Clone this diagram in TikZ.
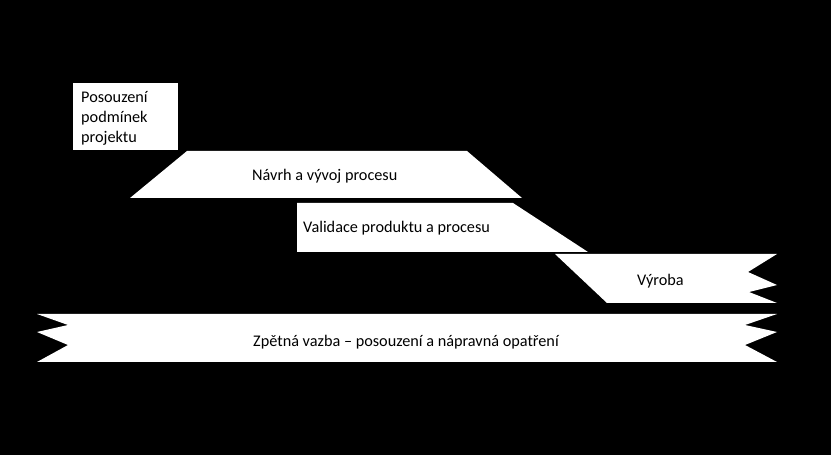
\documentclass[tikz,border=0pt]{standalone}
\usepackage{fontspec}
\setmainfont{Carlito}
\begin{document}
\begin{tikzpicture}[x=1bp,y=-1bp,
  shp/.style={fill=white,draw=none},
  lbl/.style={font=\fontsize{16.3}{20.5}\selectfont,text=black,inner sep=0pt,anchor=base west}]
\fill[black] (0,0) rectangle (831,455);
\useasboundingbox (0,0) rectangle (831,455);
% shapes
\fill[shp] (73,83) rectangle (178,150);
\fill[shp] (187,151) -- (467,151) -- (522,198) -- (130,198) -- cycle;
\fill[shp] (297,203) -- (513,203) -- (588,252) -- (297,252) -- cycle;
\fill[shp] (555,254) -- (777,254) -- (748,272) -- (777,285) -- (749,292) -- (777,303) -- (607,303) -- cycle;
\fill[shp] (37,314) -- (777,314) -- (745,325) -- (777,332) -- (745,345) -- (777,362)
  -- (37,362) -- (68,345) -- (37,332) -- (68,325) -- cycle;
% labels
\node[lbl,align=left] (posouzeni) at (81,143) {Posouzení\\podmínek\\projektu};
\node[lbl] (navrh) at (252,181) {Návrh a vývoj procesu};
\node[lbl] (validace) at (303,233) {Validace produktu a procesu};
\node[lbl] (vyroba) at (637,286) {Výroba};
\node[lbl] (zpetna) at (253,347) {Zpětná vazba – posouzení a nápravná opatření};
\end{tikzpicture}
\end{document}
